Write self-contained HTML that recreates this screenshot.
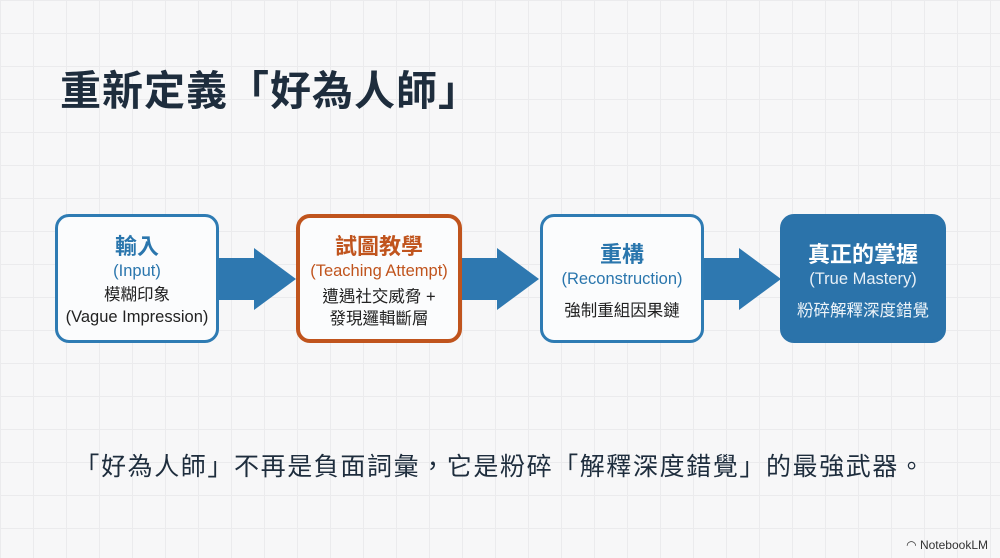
<!DOCTYPE html>
<html><head><meta charset="utf-8"><style>
body{margin:0;width:1000px;height:558px;overflow:hidden;background-color:#f7f7f8;
background-image:linear-gradient(#ebebed 1px,transparent 1px),linear-gradient(90deg,#ebebed 1px,transparent 1px);background-size:33px 33px;background-position:0 0;
font-family:"Liberation Sans","Noto Sans CJK TC",sans-serif;position:relative}
.t{position:absolute;left:60px;top:57px;font-size:41px;font-weight:bold;color:#1e2d3d;letter-spacing:1px}
.b{position:absolute;top:214px;height:129px;box-sizing:border-box;border:3px solid #2e7bb3;border-radius:14px;background:#fbfcfd;text-align:center;color:#222}
.h{font-size:22px;font-weight:bold;color:#2a76ad;margin-top:17px;line-height:26px}
.e{font-size:16.5px;color:#2a76ad;line-height:22px}
.d{font-size:16.5px;line-height:22px;margin-top:4px}
.a{position:absolute}
.bt{position:absolute;left:0;width:1000px;top:447px;text-align:center;font-size:25px;color:#1e2d3d;letter-spacing:1.6px}
.nl{position:absolute;right:12px;top:538px;font-size:12px;color:#333}
</style></head><body>
<div class="t">重新定義「好為人師」</div>
<div class="b" style="left:55px;width:164px"><div class="h">輸入</div><div class="e">(Input)</div><div class="d" style="margin-top:2px">模糊印象<br>(Vague Impression)</div></div>
<div class="b" style="left:296px;width:166px;border:4px solid #c0541d;"><div class="h" style="color:#c0541d;margin-top:16px">試圖教學</div><div class="e" style="color:#c0541d">(Teaching Attempt)</div><div class="d">遭遇社交威脅 +<br>發現邏輯斷層</div></div>
<div class="b" style="left:540px;width:164px"><div class="h" style="margin-top:25px">重構</div><div class="e">(Reconstruction)</div><div class="d" style="margin-top:10px">強制重組因果鏈</div></div>
<div class="b" style="left:780px;width:166px;background:#2b73aa;border-color:#2b73aa;color:#fff"><div class="h" style="color:#fff;margin-top:25px">真正的掌握</div><div class="e" style="color:#e8f0f7">(True Mastery)</div><div class="d" style="margin-top:10px;color:#eef4f9">粉碎解釋深度錯覺</div></div>
<svg class="a" style="left:0;top:0" width="1000" height="558">
<g fill="#2e78b0">
<polygon points="219,258 254,258 254,248 296,279 254,310 254,300 219,300"/>
<polygon points="462,258 497,258 497,248 539,279 497,310 497,300 462,300"/>
<polygon points="704,258 739,258 739,248 781,279 739,310 739,300 704,300"/>
</g></svg>
<div class="bt">「好為人師」不再是負面詞彙，它是粉碎「解釋深度錯覺」的最強武器。</div>
<div class="nl">◠ NotebookLM</div>
</body></html>
